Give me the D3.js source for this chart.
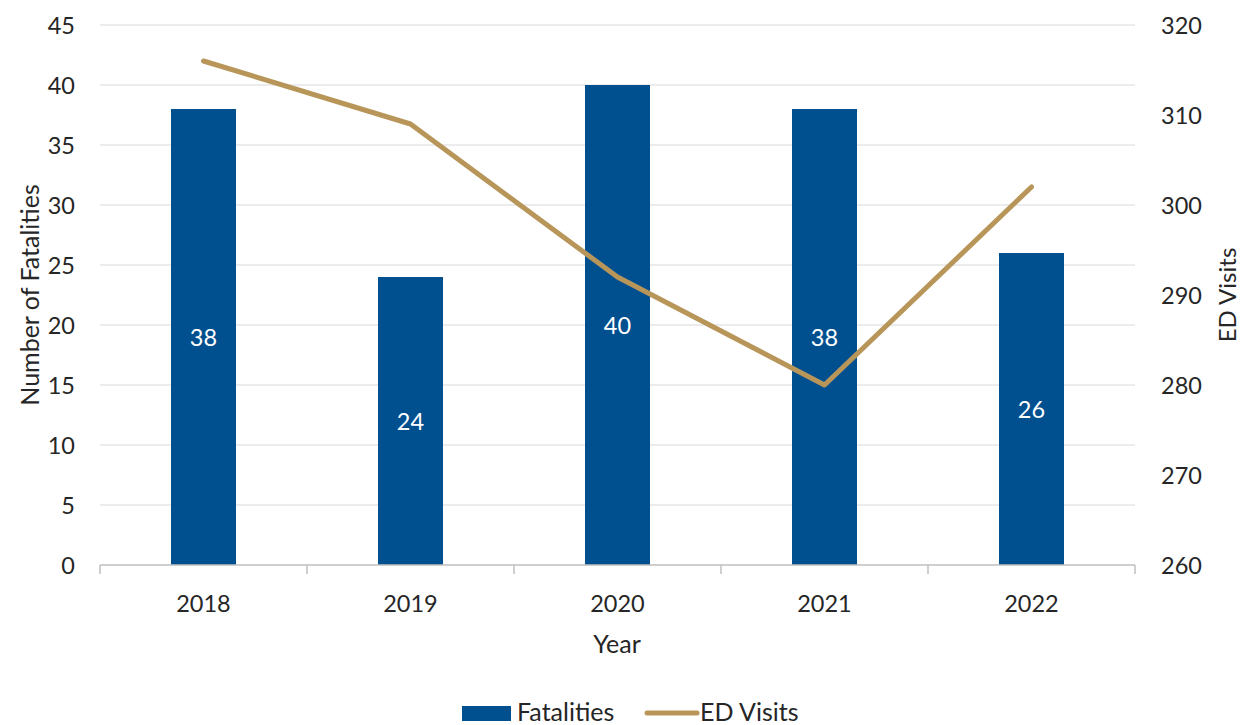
<!DOCTYPE html>
<html><head><meta charset="utf-8">
<script src="https://cdn.jsdelivr.net/npm/d3@7"></script>
<style>body{margin:0;background:#fff}svg{display:block}text{font-family:Lato,"Liberation Sans",sans-serif;fill:#262626}</style>
</head><body><svg id="c" width="1241" height="725"></svg>
<script>
const years = ["2018","2019","2020","2021","2022"];
const fatalities = [38, 24, 40, 38, 26];
const edVisits = [316, 309, 292, 280, 302];
const leftTicks = [0,5,10,15,20,25,30,35,40,45];
const rightTicks = [260,270,280,290,300,310,320];

const svg = d3.select("#c");
const L = 100, R = 1135, T = 25, B = 565;
const x = d3.scaleBand().domain(years).range([L, R]).paddingInner(0).paddingOuter(0);
const yL = d3.scaleLinear().domain([0,45]).range([B, T]);
const yR = d3.scaleLinear().domain([260,320]).range([B, T]);
const barW = 65;
const fs = 23.5, fsT = 25;

// gridlines
svg.append("g").selectAll("line").data(leftTicks.filter(d=>d>0)).join("line")
  .attr("x1", L).attr("x2", R).attr("y1", d=>yL(d)).attr("y2", d=>yL(d))
  .attr("stroke", "#d9d9d9").attr("stroke-width", 1);

// bars
svg.append("g").selectAll("rect").data(years).join("rect")
  .attr("x", (d)=>x(d)+x.bandwidth()/2-barW/2).attr("width", barW)
  .attr("y", (d,i)=>yL(fatalities[i])).attr("height", (d,i)=>B-yL(fatalities[i]))
  .attr("fill", "#004F8F");

// bar labels
svg.append("g").selectAll("text").data(years).join("text")
  .attr("x", d=>x(d)+x.bandwidth()/2)
  .attr("y", (d,i)=>(yL(fatalities[i])+B)/2)
  .attr("text-anchor","middle").attr("dominant-baseline","central")
  .style("fill","#fff").style("font-size", fs+"px")
  .text((d,i)=>fatalities[i]);

// x axis line and ticks
const gx = svg.append("g");
gx.append("line").attr("x1",L).attr("x2",R).attr("y1",B).attr("y2",B).attr("stroke","#bfbfbf").attr("stroke-width",1.5);
const bounds = years.map(d=>x(d)).concat([R]);
gx.selectAll("line.t").data(bounds).join("line").attr("class","t")
  .attr("x1",d=>d).attr("x2",d=>d).attr("y1",B).attr("y2",B+9).attr("stroke","#bfbfbf").attr("stroke-width",1.5);
gx.selectAll("text").data(years).join("text")
  .attr("x", d=>x(d)+x.bandwidth()/2).attr("y", 603)
  .attr("text-anchor","middle").attr("dominant-baseline","central").style("font-size",fs+"px").text(d=>d);

// left ticks
svg.append("g").selectAll("text").data(leftTicks).join("text")
  .attr("x", 75).attr("y", d=>yL(d)).attr("dominant-baseline","central")
  .attr("text-anchor","end").style("font-size",fs+"px").text(d=>d);
// right ticks
svg.append("g").selectAll("text").data(rightTicks).join("text")
  .attr("x", 1161).attr("y", d=>yR(d)).attr("dominant-baseline","central")
  .attr("text-anchor","start").style("font-size",fs+"px").text(d=>d);

// line
svg.append("path").datum(edVisits)
  .attr("d", d3.line().x((d,i)=>x(years[i])+x.bandwidth()/2).y(d=>yR(d)))
  .attr("fill","none").attr("stroke","#B8965A").attr("stroke-width",5).attr("stroke-linecap","round").attr("stroke-linejoin","round");

// axis titles
svg.append("text").attr("transform","translate(29,295) rotate(-90)")
  .attr("text-anchor","middle").attr("dominant-baseline","central").style("font-size",fsT+"px").text("Number of Fatalities");
svg.append("text").attr("transform","translate(1226,295) rotate(-90)")
  .attr("text-anchor","middle").attr("dominant-baseline","central").style("font-size","24px").text("ED Visits");
svg.append("text").attr("x",617).attr("y",643).attr("text-anchor","middle").attr("dominant-baseline","central")
  .style("font-size",fsT+"px").text("Year");

// legend
const lg = svg.append("g");
lg.append("rect").attr("x",462).attr("y",706).attr("width",49).attr("height",15).attr("fill","#004F8F");
lg.append("text").attr("x",517).attr("y",711).attr("dominant-baseline","central").style("font-size",fsT+"px").text("Fatalities");
lg.append("line").attr("x1",647).attr("x2",697).attr("y1",713).attr("y2",713).attr("stroke","#B8965A").attr("stroke-width",5).attr("stroke-linecap","round");
lg.append("text").attr("x",700).attr("y",711).attr("dominant-baseline","central").style("font-size",fsT+"px").text("ED Visits");
</script></body></html>
